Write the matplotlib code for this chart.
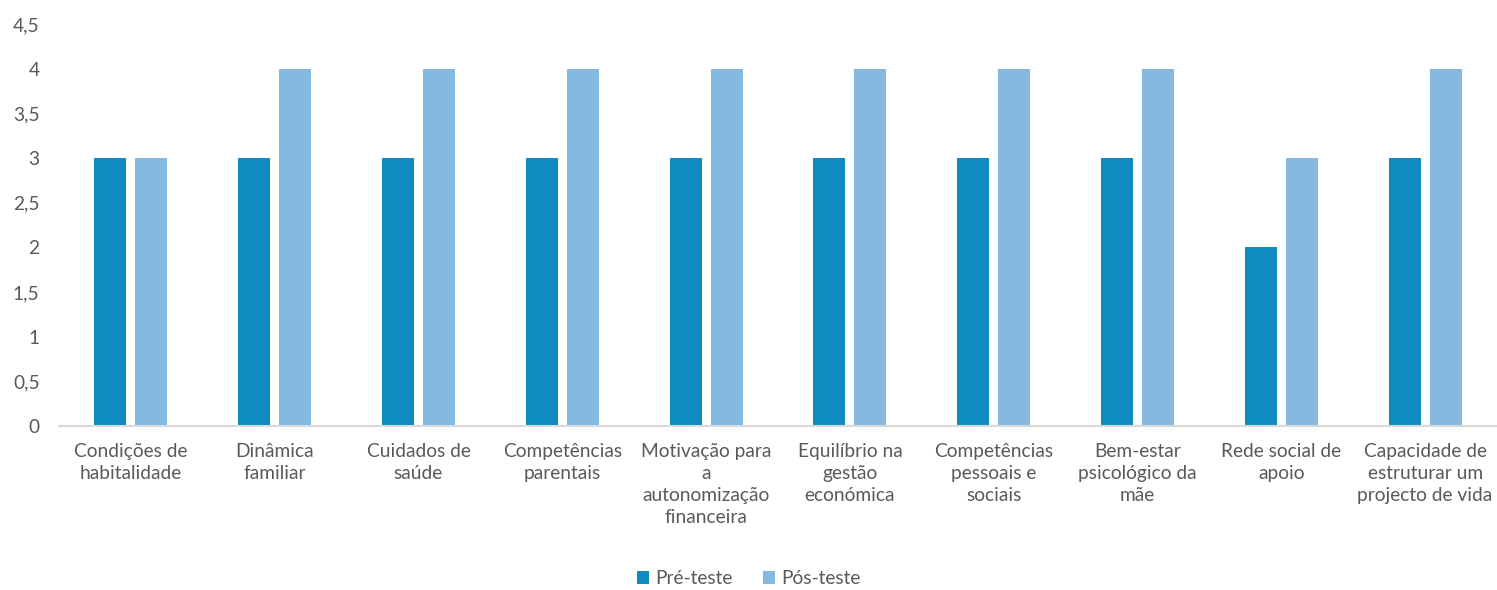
import numpy as np
import matplotlib.pyplot as plt
from matplotlib.ticker import FuncFormatter

categories = [
    "Condições de\nhabitalidade",
    "Dinâmica\nfamiliar",
    "Cuidados de\nsaúde",
    "Competências\nparentais",
    "Motivação para\na\nautonomização\nfinanceira",
    "Equilíbrio na\ngestão\neconómica",
    "Competências\npessoais e\nsociais",
    "Bem-estar\npsicológico da\nmãe",
    "Rede social de\napoio",
    "Capacidade de\nestruturar um\nprojecto de vida",
]
pre_teste = [3, 3, 3, 3, 3, 3, 3, 3, 2, 3]
pos_teste = [3, 4, 4, 4, 4, 4, 4, 4, 3, 4]

dark = "#0E8BC0"
light = "#85B9E0"
text_col = "#595959"

plt.rcParams["font.family"] = ["Lato", "DejaVu Sans"]

fig = plt.figure(figsize=(14.97, 5.9), dpi=100)
ax = fig.add_axes([59 / 1497, 1 - 426 / 590, 1 - 59 / 1497, (426 - 24) / 590])

x = np.arange(len(categories))
w = 0.222
off = (w + 0.0625) / 2
ax.bar(x - off, pre_teste, w, color=dark, label="Pré-teste")
ax.bar(x + off, pos_teste, w, color=light, label="Pós-teste")

ax.set_xlim(-0.5, len(categories) - 0.5)
ax.set_ylim(0, 4.5)
ax.set_yticks(np.arange(0, 4.51, 0.5))
ax.yaxis.set_major_formatter(FuncFormatter(lambda v, p: f"{v:g}".replace(".", ",")))
ax.set_xticks(x)
ax.set_xticklabels(categories, linespacing=1.36)

for s in ["top", "right", "left"]:
    ax.spines[s].set_visible(False)
ax.spines["bottom"].set_color("#D9D9D9")
ax.spines["bottom"].set_linewidth(1.5)
ax.tick_params(axis="both", length=0, labelsize=13.8, colors=text_col)
ax.tick_params(axis="y", pad=14)
ax.tick_params(axis="x", pad=12)

leg = fig.legend(loc="lower center", bbox_to_anchor=(0.5, -0.025), ncol=2, frameon=False,
                 fontsize=13.8, handlelength=0.65, handleheight=0.65, handletextpad=0.3,
                 columnspacing=1.6)
for t in leg.get_texts():
    t.set_color(text_col)

fig.savefig("out.png", dpi=100)
